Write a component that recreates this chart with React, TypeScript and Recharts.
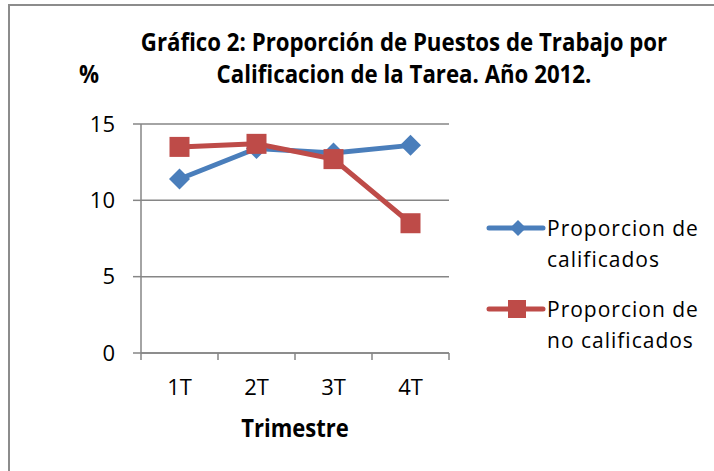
import React from 'react';
import { LineChart, Line, XAxis, YAxis, CartesianGrid } from 'recharts';

const categories = ['1T', '2T', '3T', '4T'];
const calificados = [11.4, 13.4, 13.1, 13.6];
const noCalificados = [13.5, 13.7, 12.7, 8.5];
const yTicks = [0, 5, 10, 15];
const legendItems = [
  { key: 'a', lines: ['Proporcion de', 'calificados'] },
  { key: 'b', lines: ['Proporcion de', 'no calificados'] },
];

const data = categories.map((c, i) => ({ cat: c, a: calificados[i], b: noCalificados[i] }));

const BLUE = '#4A7EBB';
const RED = '#BE4B48';
const GRID = '#868686';
const FONT = '"Open Sans", Lato, sans-serif';
const TICK_LEN = 7;
const LABEL_GAP = 26;

const Diamond = (props: any) => {
  const { cx, cy } = props;
  if (cx == null || cy == null) return null;
  const r = 10.5;
  return <path d={`M${cx},${cy - r}L${cx + r},${cy}L${cx},${cy + r}L${cx - r},${cy}Z`} fill={BLUE} />;
};
const Square = (props: any) => {
  const { cx, cy } = props;
  if (cx == null || cy == null) return null;
  const s = 10;
  return <rect x={cx - s} y={cy - s} width={2 * s} height={2 * s} fill={RED} />;
};

const CatTick = (props: any) => {
  const { x, y, payload, index, visibleTicksCount, width } = props;
  const half = payload && payload.offset ? payload.offset : (width || 308) / (visibleTicksCount || 4) / 2;
  const axisY = y - LABEL_GAP;
  const last = index === (visibleTicksCount || 4) - 1;
  return (
    <g>
      <line x1={x - half} x2={x - half} y1={axisY} y2={axisY + TICK_LEN} stroke={GRID} strokeWidth={1.5} />
      {last ? <line x1={x + half} x2={x + half} y1={axisY} y2={axisY + TICK_LEN} stroke={GRID} strokeWidth={1.5} /> : null}
      <text x={x} y={y} dy="0.71em" textAnchor="middle" fill="#000" fontSize={22} fontFamily={FONT}>
        {payload.value}
      </text>
    </g>
  );
};

const LegendBox = () => (
  <div style={{ position: 'absolute', left: 0, top: 0, fontFamily: FONT, fontSize: 21, color: '#000', lineHeight: '31px', letterSpacing: 1 }}>
    {legendItems.map((it, i) => {
      const color = it.key === 'a' ? BLUE : RED;
      const top = i === 0 ? 213 : 294;
      return (
        <div key={i}>
          <svg width={60} height={20} style={{ position: 'absolute', left: 486, top: top + 5 }}>
            <line x1={3} y1={10} x2={57} y2={10} stroke={color} strokeWidth={5} strokeLinecap="round" />
            {it.key === 'a' ? (
              <path d="M32,2L40,10L32,18L24,10Z" fill={color} />
            ) : (
              <rect x={22} y={1} width={18} height={18} fill={color} />
            )}
          </svg>
          <div style={{ position: 'absolute', left: 547, top, whiteSpace: 'nowrap' }}>
            {it.lines.map((l, j) => (
              <div key={j}>{l}</div>
            ))}
          </div>
        </div>
      );
    })}
  </div>
);

export default function App() {
  return (
    <div style={{ position: 'absolute', left: 0, top: 0, width: 714, height: 471, background: '#fff', overflow: 'hidden', fontFamily: FONT }}>
      <div style={{ position: 'absolute', left: 8, top: 4, width: 720, height: 480, border: '2px solid #8c8c8c', boxSizing: 'border-box' }} />
      <div style={{ position: 'absolute', left: 103.5, top: 25, width: 600, textAlign: 'center', fontWeight: 700, fontSize: 25, lineHeight: '32px', color: '#000', transform: 'scaleX(0.89)', transformOrigin: '50% 0', whiteSpace: 'nowrap' }}>
        <div>Gráfico 2: Proporción de Puestos de Trabajo por</div>
        <div>Calificacion de la Tarea. Año 2012.</div>
      </div>
      <div style={{ position: 'absolute', left: 79, top: 57, fontWeight: 700, fontSize: 25, lineHeight: '32px', color: '#000', transform: 'scaleX(0.89)', transformOrigin: '0 0' }}>%</div>
      <div style={{ position: 'absolute', left: 145, width: 300, top: 411, textAlign: 'center', fontWeight: 700, fontSize: 25, lineHeight: '32px', color: '#000', transform: 'scaleX(0.88)', transformOrigin: '50% 0' }}>Trimestre</div>
      <LegendBox />
      <div style={{ position: 'absolute', left: 0, top: 0 }}>
        <LineChart width={714} height={471} data={data} margin={{ top: 124, right: 265, bottom: 88, left: 101 }}>
          <CartesianGrid horizontal={true} vertical={false} stroke={GRID} strokeWidth={1.5} />
          <XAxis
            dataKey="cat"
            scale="band"
            height={30}
            tickLine={false}
            axisLine={{ stroke: GRID, strokeWidth: 1.5 }}
            tickSize={0}
            tickMargin={LABEL_GAP}
            interval={0}
            tick={<CatTick />}
          />
          <YAxis
            domain={[0, 15]}
            ticks={yTicks}
            width={40}
            tickSize={8}
            tickMargin={18}
            interval={0}
            tickLine={{ stroke: GRID, strokeWidth: 1.5 }}
            axisLine={{ stroke: GRID, strokeWidth: 1.5 }}
            tick={{ fill: '#000', fontSize: 22, fontFamily: FONT }}
          />
          <Line dataKey="a" stroke={BLUE} strokeWidth={5} dot={<Diamond />} activeDot={false} isAnimationActive={false} />
          <Line dataKey="b" stroke={RED} strokeWidth={5} dot={<Square />} activeDot={false} isAnimationActive={false} />
        </LineChart>
      </div>
    </div>
  );
}
